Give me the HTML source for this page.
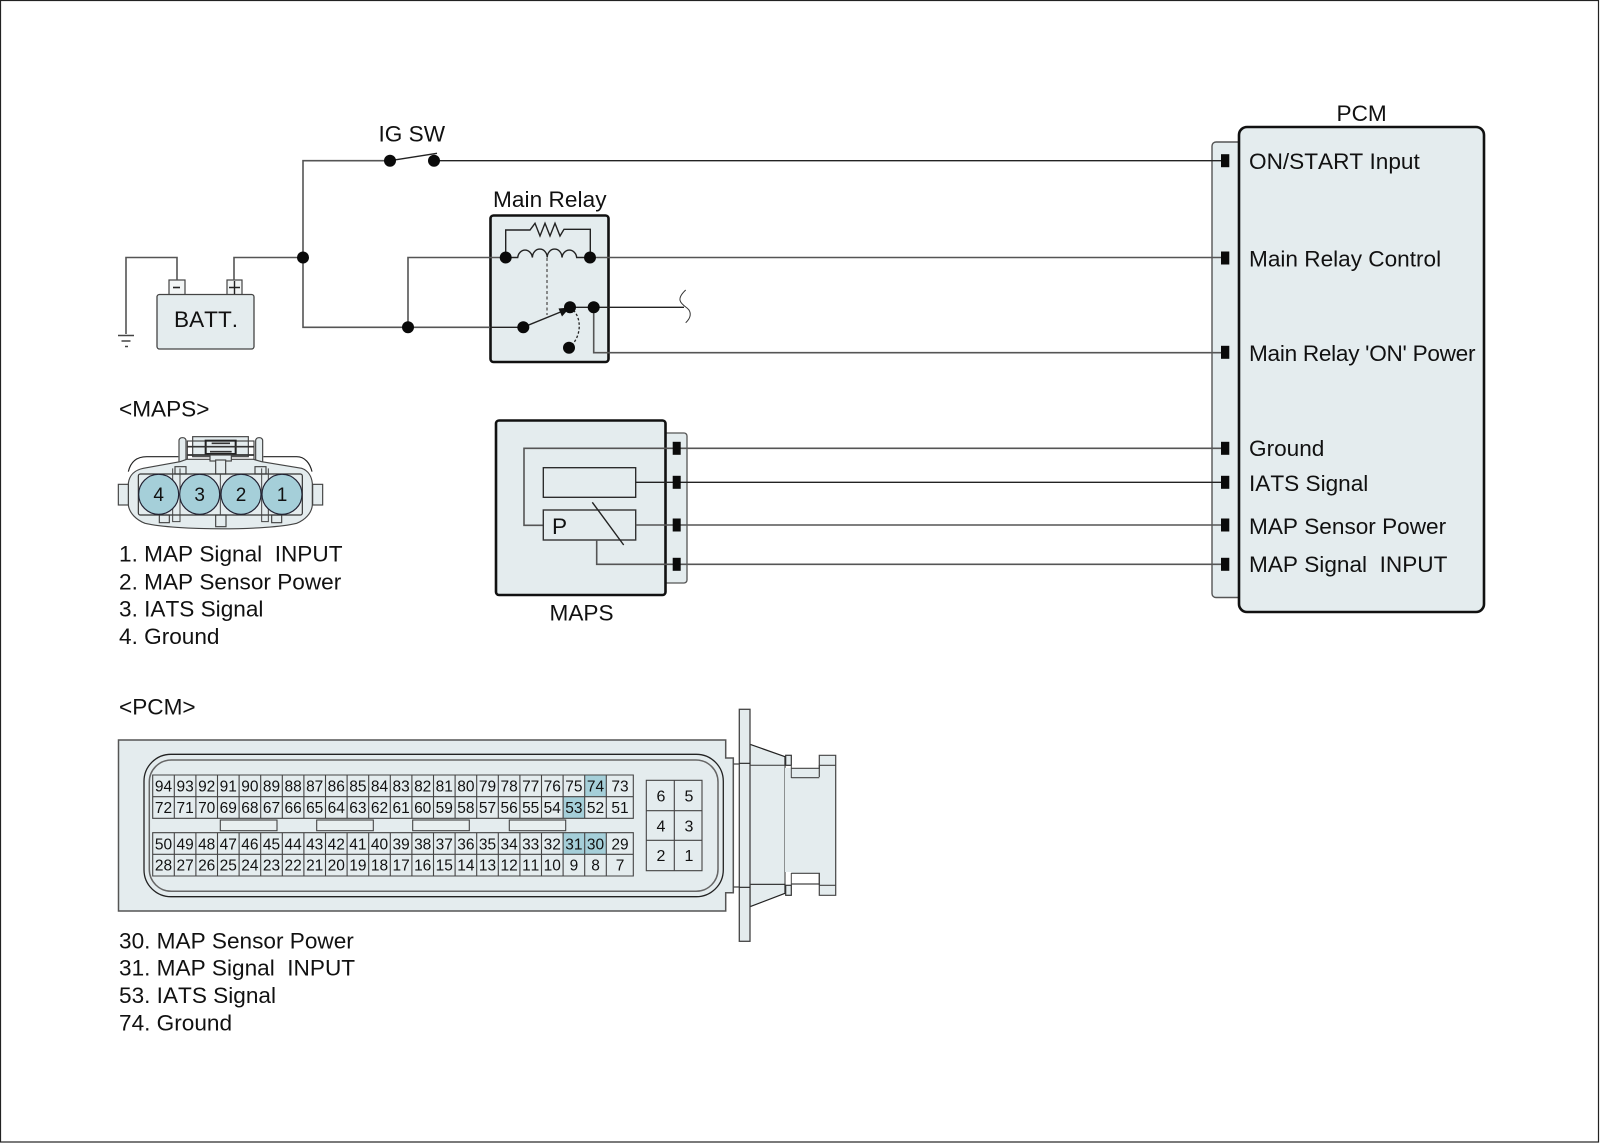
<!DOCTYPE html>
<html><head><meta charset="utf-8"><title>MAP sensor circuit</title>
<style>
html,body{margin:0;padding:0;background:#fff}
svg{display:block}
text{font-family:"Liberation Sans",Arial,sans-serif;fill:#111;font-kerning:none}
.t{font-size:22.6px}
.n{font-size:15.5px;text-anchor:middle}
.w{fill:none;stroke:#555;stroke-width:1.6}
.k{fill:none;stroke:#222;stroke-width:1.4}
</style></head><body>
<svg xmlns="http://www.w3.org/2000/svg" width="1600" height="1143" viewBox="0 0 1600 1143">
<rect x="0.5" y="0.5" width="1598" height="1141.5" fill="#fff" stroke="#222" stroke-width="1.2"/>

<!-- PCM box -->
<rect x="1212" y="142" width="40" height="455.5" rx="4" fill="#e4ecee" stroke="#555" stroke-width="1.4"/>
<rect x="1239" y="127" width="245" height="485" rx="8" fill="#e4ecee" stroke="#111" stroke-width="2.6"/>
<text class="t" x="1336.5" y="121">PCM</text>
<text class="t" x="1249" y="169">ON/START Input</text>
<text class="t" x="1249" y="266.5">Main Relay Control</text>
<text class="t" x="1249" y="361" textLength="226.500" lengthAdjust="spacing">Main Relay 'ON' Power</text>
<text class="t" x="1249" y="456">Ground</text>
<text class="t" x="1249" y="491">IATS Signal</text>
<text class="t" x="1249" y="534">MAP Sensor Power</text>
<text class="t" x="1249" y="572">MAP Signal&#160; INPUT</text>

<!-- Battery -->
<rect x="169" y="280" width="16" height="15" fill="#f2f5f5" stroke="#444" stroke-width="1.2"/>
<rect x="227" y="280" width="15" height="15" fill="#f2f5f5" stroke="#444" stroke-width="1.2"/>
<rect x="157" y="294.5" width="97" height="54.5" rx="2.5" fill="#e4ecee" stroke="#444" stroke-width="1.3"/>
<path d="M173 287.5h7" stroke="#222" stroke-width="1.6"/>
<path d="M229 287.5h11M234.5 281v13" stroke="#222" stroke-width="1.4"/>
<text x="174" y="327" class="t">BATT.</text>
<path class="w" d="M177 280V257.5H126V334"/>
<path class="w" d="M234 280V257.5H303"/>
<path d="M118 335.5h16M121.5 341h9M125 346.5h3" stroke="#444" stroke-width="1.4"/>

<!-- Relay -->
<rect x="490.5" y="215.5" width="118" height="146.5" rx="3" fill="#e4ecee" stroke="#111" stroke-width="2.6"/>
<text class="t" x="493" y="207" textLength="113.500" lengthAdjust="spacing">Main Relay</text>

<!-- Wires -->
<path class="w" d="M390 160.7H303V327.3H490"/>
<path class="k" d="M490 327.3H523"/>
<path class="k" d="M390 160.7L437 153.3"/>
<path class="k" d="M434 160.7H1222"/>
<text class="t" x="378.5" y="141.7">IG SW</text>
<path class="w" d="M408 327.3V257.5H506"/>
<path class="w" d="M590 257.5H1222"/>
<path class="k" d="M505.7 257.5V230H530L535 223.3 540 236 545 223.3 550 236 555 223.3 560 236 564 229.3H590.3V257.5"/>
<path class="k" d="M506 257.5H517.7A7.4 8.4 0 0 1 532.4 257.5A7.4 8.4 0 0 1 547.2 257.5A7.4 8.4 0 0 1 562 257.5A7.4 8.4 0 0 1 576.7 257.5H590"/>
<path d="M547 258V315" stroke="#666" stroke-width="1.5" stroke-dasharray="3 2.5" fill="none"/>
<path class="k" d="M523 327.3L563 311"/>
<path d="M570 307.5L558.5 308.5 562 316.5Z" fill="#111"/>
<path d="M570 307.3C582 315 583 336 569 348" fill="none" stroke="#222" stroke-width="1.3" stroke-dasharray="2.5 2"/>
<path class="k" d="M570 307.3H684"/>
<path d="M685.7 290C676 299 680 303 687 308C692 312 691 318 685.7 322.7" fill="none" stroke="#333" stroke-width="1"/>
<path class="w" d="M593.7 307.3V352.7H1222"/>
<g fill="#0a0a0a">
<circle cx="390" cy="160.7" r="6"/><circle cx="434" cy="160.7" r="6"/>
<circle cx="303" cy="257.5" r="6"/><circle cx="408" cy="327.3" r="6"/>
<circle cx="505.7" cy="257.5" r="6"/><circle cx="590" cy="257.5" r="6"/>
<circle cx="523.3" cy="327.3" r="6"/><circle cx="570" cy="307.3" r="6"/>
<circle cx="593.7" cy="307.3" r="6"/><circle cx="569" cy="347.7" r="6"/>
</g>

<!-- MAPS sensor -->
<rect x="660" y="433" width="27" height="150" rx="3" fill="#e4ecee" stroke="#555" stroke-width="1.3"/>
<rect x="496" y="420.5" width="169.5" height="174.5" rx="3" fill="#e4ecee" stroke="#111" stroke-width="2.6"/>
<text class="t" x="549.5" y="620.7">MAPS</text>
<path class="w" d="M1222 448.3H524V525.3H543.3"/>
<rect x="543.3" y="467.7" width="92.4" height="29.6" fill="none" stroke="#222" stroke-width="1.3"/>
<rect x="543.3" y="510" width="92.4" height="30" fill="none" stroke="#333" stroke-width="1.4"/>
<text class="t" x="552" y="534">P</text>
<path class="k" d="M592.3 502.3L623.7 545" stroke-width="1.2"/>
<path class="k" d="M635.7 482.3H1222"/>
<path class="w" d="M635.7 525H1222"/>
<path class="w" d="M596.7 540V564.3H1222"/>
<g fill="#0a0a0a">
<rect x="672.7" y="441.8" width="8" height="13"/><rect x="672.7" y="475.8" width="8" height="13"/>
<rect x="672.7" y="518.5" width="8" height="13"/><rect x="672.7" y="557.8" width="8" height="13"/>
<rect x="1221" y="154.2" width="8.3" height="13"/><rect x="1221" y="251.5" width="8.3" height="13"/>
<rect x="1221" y="345.8" width="8.3" height="13"/><rect x="1221" y="441.8" width="8.3" height="13"/>
<rect x="1221" y="475.8" width="8.3" height="13"/><rect x="1221" y="518.5" width="8.3" height="13"/>
<rect x="1221" y="557.8" width="8.3" height="13"/>
</g>

<!-- MAPS connector -->
<text class="t" x="119" y="416.7">&lt;MAPS&gt;</text>
<g transform="translate(100 400) scale(.33333)" fill="#e4ecee" stroke="#444" stroke-width="3.5">
<path d="M85 215C92 185 110 170 140 170H235M490 170H590C615 170 630 190 636 215" fill="none" stroke="#222"/>
<rect x="237" y="113" width="21" height="80" rx="9"/>
<rect x="467" y="113" width="21" height="80" rx="9"/>
<rect x="278" y="110" width="167" height="60"/>
<rect x="262" y="123" width="200" height="57" fill="none"/>
<path d="M85 250C88 225 105 210 130 205L240 185 260 178H460L485 185 605 205C625 212 635 230 637 250V315C635 340 615 360 590 370 500 392 230 392 135 370 110 360 88 340 85 315Z"/>
<rect x="317" y="122" width="90" height="40" stroke="#222" stroke-width="6"/>
<path d="M262 140H462M262 165H462M335 130H390M330 155H395" fill="none" stroke="#333" stroke-width="5"/>
<rect x="330" y="165" width="64" height="18"/>
<rect x="55" y="253" width="30" height="62"/>
<rect x="638" y="253" width="30" height="62"/>
<rect x="347" y="180" width="30" height="42"/>
<rect x="225" y="200" width="33" height="22"/>
<rect x="465" y="200" width="33" height="22"/>
<rect x="178" y="345" width="30" height="23"/>
<rect x="515" y="345" width="30" height="23"/>
<rect x="347" y="345" width="31" height="35"/>
<rect x="115" y="222" width="492" height="123" rx="6" fill="none" stroke="#333"/>
<path d="M218 205V365H240V205M485 205V365H505V205M361 222V345" fill="none" stroke-width="3"/>
<g fill="#a5cfd9" stroke="#223" stroke-width="3.5">
<circle cx="176" cy="283" r="60"/><circle cx="299" cy="283" r="60"/><circle cx="423" cy="283" r="60"/><circle cx="546" cy="283" r="60"/>
</g>
</g>
<g style="font-size:19px">
<text x="158.7" y="501" text-anchor="middle">4</text>
<text x="199.7" y="501" text-anchor="middle">3</text>
<text x="241" y="501" text-anchor="middle">2</text>
<text x="282" y="501" text-anchor="middle">1</text>
</g>
<text class="t" x="119" y="561.7">1. MAP Signal&#160; INPUT</text>
<text class="t" x="119" y="589.3">2. MAP Sensor Power</text>
<text class="t" x="119" y="616.7">3. IATS Signal</text>
<text class="t" x="119" y="644">4. Ground</text>

<!-- PCM connector -->
<text class="t" x="119" y="714.3">&lt;PCM&gt;</text>
<path d="M118.5 740H725.7V758H733.3V892.7H725.7V911H118.5Z" fill="#e4ecee" stroke="#555" stroke-width="1.5"/>
<path d="M733.3 764H739.3M733.3 887H739.3" stroke="#444" stroke-width="1.2"/>
<path d="M750 744.3L785 756.7V766.7H750ZM750 906.7L785 893.3V884.3H750Z" fill="#e4ecee" stroke="#222" stroke-width="1.2"/>
<path d="M750 765.3H785V884.3H750Z" fill="#e4ecee" stroke="#333" stroke-width="1"/>
<path d="M791.3 768.3H819.3V755.3H835.7V895.3H819.3V873.3H791.3Z" fill="#e4ecee" stroke="none"/>
<rect x="785" y="768" width="40" height="104" fill="#e4ecee"/>
<path d="M791.3 768.3H819.3V755.3H835.7V895.3H819.3V873.3H791.3" fill="none" stroke="#444" stroke-width="1.2"/>
<path d="M791.3 777.7H819.3M791.3 884H819.3M819.3 765.3H835.7M819.3 885.3H835.7M819.3 765V777M819.3 873V885" fill="none" stroke="#444" stroke-width="1.2"/>
<rect x="785.7" y="755.3" width="5.6" height="10" fill="#e4ecee" stroke="#333" stroke-width="1.2"/>
<rect x="785.7" y="885.3" width="5.6" height="10" fill="#e4ecee" stroke="#333" stroke-width="1.2"/>
<path d="M791.3 766V778M791.3 873V885" stroke="#444" stroke-width="1"/>
<rect x="739.3" y="709.3" width="10.7" height="232" fill="#e4ecee" stroke="#444" stroke-width="1.3"/>
<path d="M739.3 763.3H750M739.3 887.3H750" stroke="#222" stroke-width="1.2"/>
<rect x="144" y="754.3" width="579.3" height="142.4" rx="27" fill="none" stroke="#222" stroke-width="1.3"/>
<rect x="149.3" y="760" width="568.7" height="131.3" rx="22" fill="none" stroke="#666" stroke-width="1.5"/>

<g fill="#a5cfd9">
<rect x="584.7" y="775" width="21.6" height="21.7"/>
<rect x="563.1" y="796.7" width="21.6" height="21.6"/>
<rect x="563.1" y="832.7" width="21.6" height="21.6"/>
<rect x="584.7" y="832.7" width="21.6" height="21.6"/>
</g>
<path fill="none" stroke="#444" stroke-width="1.1" d="M152.7 775H633.3V818.3H152.7ZM152.7 796.7H633.3M152.7 832.7H633.3V876H152.7ZM152.7 854.3H633.3
M174.3 775V818.3M195.9 775V818.3M217.5 775V818.3M239.1 775V818.3M260.7 775V818.3M282.3 775V818.3M303.9 775V818.3M325.5 775V818.3M347.1 775V818.3M368.7 775V818.3M390.3 775V818.3M411.9 775V818.3M433.5 775V818.3M455.1 775V818.3M476.7 775V818.3M498.3 775V818.3M519.9 775V818.3M541.5 775V818.3M563.1 775V818.3M584.7 775V818.3M606.3 775V818.3
M174.3 832.7V876M195.9 832.7V876M217.5 832.7V876M239.1 832.7V876M260.7 832.7V876M282.3 832.7V876M303.9 832.7V876M325.5 832.7V876M347.1 832.7V876M368.7 832.7V876M390.3 832.7V876M411.9 832.7V876M433.5 832.7V876M455.1 832.7V876M476.7 832.7V876M498.3 832.7V876M519.9 832.7V876M541.5 832.7V876M563.1 832.7V876M584.7 832.7V876M606.3 832.7V876"/>
<g fill="#e9eff0" stroke="#444" stroke-width="1.1">
<rect x="220.3" y="820" width="56.7" height="10.7"/>
<rect x="316.7" y="820" width="56.6" height="10.7"/>
<rect x="412.7" y="820" width="56.6" height="10.7"/>
<rect x="509.3" y="820" width="56.4" height="10.7"/>
</g>
<g>
<text class="n" x="163.5" y="791.7">94</text><text class="n" x="185.1" y="791.7">93</text><text class="n" x="206.7" y="791.7">92</text><text class="n" x="228.3" y="791.7">91</text><text class="n" x="249.9" y="791.7">90</text><text class="n" x="271.5" y="791.7">89</text><text class="n" x="293.1" y="791.7">88</text><text class="n" x="314.7" y="791.7">87</text><text class="n" x="336.3" y="791.7">86</text><text class="n" x="357.9" y="791.7">85</text><text class="n" x="379.5" y="791.7">84</text><text class="n" x="401.1" y="791.7">83</text><text class="n" x="422.7" y="791.7">82</text><text class="n" x="444.3" y="791.7">81</text><text class="n" x="465.9" y="791.7">80</text><text class="n" x="487.5" y="791.7">79</text><text class="n" x="509.1" y="791.7">78</text><text class="n" x="530.7" y="791.7">77</text><text class="n" x="552.3" y="791.7">76</text><text class="n" x="573.9" y="791.7">75</text><text class="n" x="595.5" y="791.7">74</text><text class="n" x="620" y="791.7">73</text>
<text class="n" x="163.5" y="812.9">72</text><text class="n" x="185.1" y="812.9">71</text><text class="n" x="206.7" y="812.9">70</text><text class="n" x="228.3" y="812.9">69</text><text class="n" x="249.9" y="812.9">68</text><text class="n" x="271.5" y="812.9">67</text><text class="n" x="293.1" y="812.9">66</text><text class="n" x="314.7" y="812.9">65</text><text class="n" x="336.3" y="812.9">64</text><text class="n" x="357.9" y="812.9">63</text><text class="n" x="379.5" y="812.9">62</text><text class="n" x="401.1" y="812.9">61</text><text class="n" x="422.7" y="812.9">60</text><text class="n" x="444.3" y="812.9">59</text><text class="n" x="465.9" y="812.9">58</text><text class="n" x="487.5" y="812.9">57</text><text class="n" x="509.1" y="812.9">56</text><text class="n" x="530.7" y="812.9">55</text><text class="n" x="552.3" y="812.9">54</text><text class="n" x="573.9" y="812.9">53</text><text class="n" x="595.5" y="812.9">52</text><text class="n" x="620" y="812.9">51</text>
<text class="n" x="163.5" y="849.3">50</text><text class="n" x="185.1" y="849.3">49</text><text class="n" x="206.7" y="849.3">48</text><text class="n" x="228.3" y="849.3">47</text><text class="n" x="249.9" y="849.3">46</text><text class="n" x="271.5" y="849.3">45</text><text class="n" x="293.1" y="849.3">44</text><text class="n" x="314.7" y="849.3">43</text><text class="n" x="336.3" y="849.3">42</text><text class="n" x="357.9" y="849.3">41</text><text class="n" x="379.5" y="849.3">40</text><text class="n" x="401.1" y="849.3">39</text><text class="n" x="422.7" y="849.3">38</text><text class="n" x="444.3" y="849.3">37</text><text class="n" x="465.9" y="849.3">36</text><text class="n" x="487.5" y="849.3">35</text><text class="n" x="509.1" y="849.3">34</text><text class="n" x="530.7" y="849.3">33</text><text class="n" x="552.3" y="849.3">32</text><text class="n" x="573.9" y="849.3">31</text><text class="n" x="595.5" y="849.3">30</text><text class="n" x="620" y="849.3">29</text>
<text class="n" x="163.5" y="870.7">28</text><text class="n" x="185.1" y="870.7">27</text><text class="n" x="206.7" y="870.7">26</text><text class="n" x="228.3" y="870.7">25</text><text class="n" x="249.9" y="870.7">24</text><text class="n" x="271.5" y="870.7">23</text><text class="n" x="293.1" y="870.7">22</text><text class="n" x="314.7" y="870.7">21</text><text class="n" x="336.3" y="870.7">20</text><text class="n" x="357.9" y="870.7">19</text><text class="n" x="379.5" y="870.7">18</text><text class="n" x="401.1" y="870.7">17</text><text class="n" x="422.7" y="870.7">16</text><text class="n" x="444.3" y="870.7">15</text><text class="n" x="465.9" y="870.7">14</text><text class="n" x="487.5" y="870.7">13</text><text class="n" x="509.1" y="870.7">12</text><text class="n" x="530.7" y="870.7">11</text><text class="n" x="552.3" y="870.7">10</text><text class="n" x="573.9" y="870.7">9</text><text class="n" x="595.5" y="870.7">8</text><text class="n" x="620" y="870.7">7</text>
</g>
<path fill="none" stroke="#444" stroke-width="1.1" d="M646.3 780.3H702V870.7H646.3ZM674.3 780.3V870.7M646.3 810.7H702M646.3 840.3H702"/>
<g style="font-size:16px">
<text x="661" y="801.5" text-anchor="middle">6</text><text x="689" y="801.5" text-anchor="middle">5</text>
<text x="661" y="831.5" text-anchor="middle">4</text><text x="689" y="831.5" text-anchor="middle">3</text>
<text x="661" y="861" text-anchor="middle">2</text><text x="689" y="861" text-anchor="middle">1</text>
</g>
<text class="t" x="119" y="948.3">30. MAP Sensor Power</text>
<text class="t" x="119" y="975.6">31. MAP Signal&#160; INPUT</text>
<text class="t" x="119" y="1003">53. IATS Signal</text>
<text class="t" x="119" y="1030.3">74. Ground</text>
</svg>
</body></html>
